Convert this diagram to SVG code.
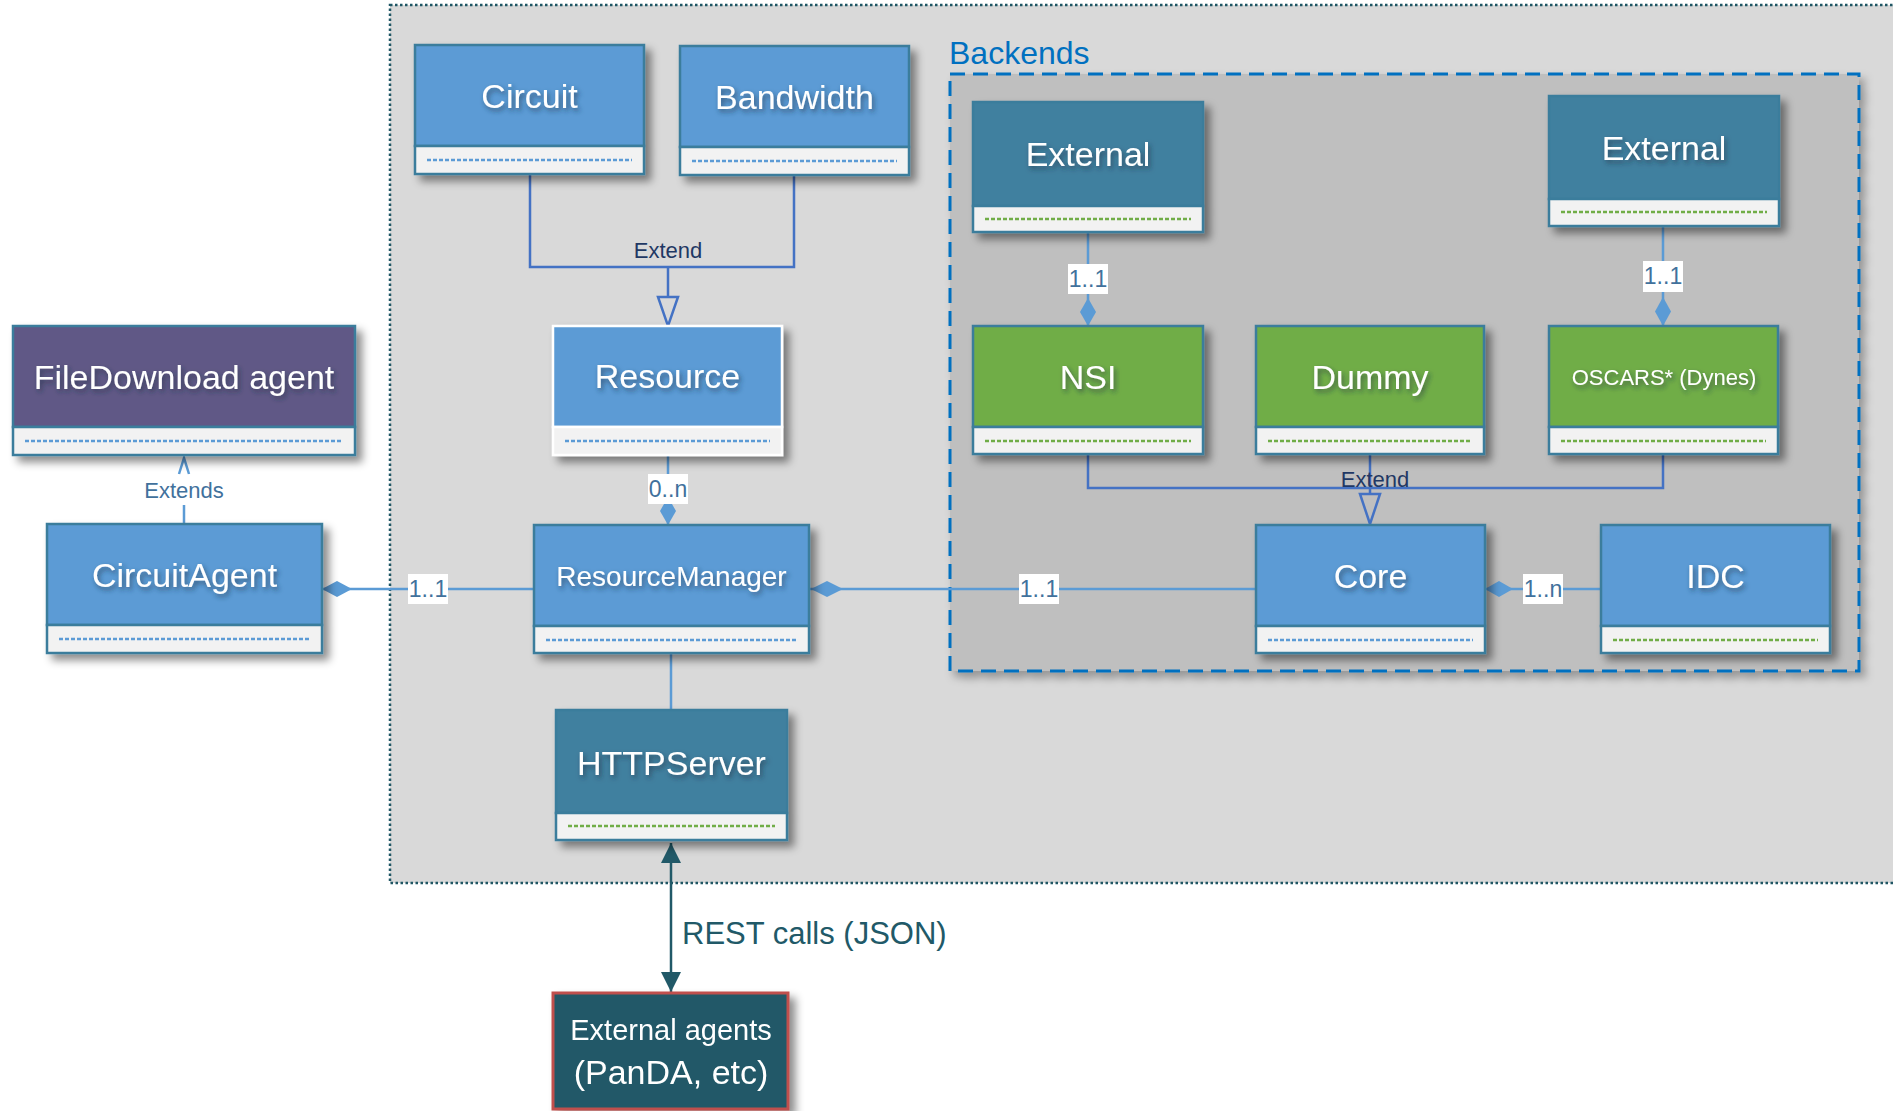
<svg xmlns="http://www.w3.org/2000/svg" width="1893" height="1111" viewBox="0 0 1893 1111">
  <defs>
    <filter id="boxShadow" x="-10%" y="-10%" width="130%" height="140%">
      <feDropShadow dx="6" dy="6" stdDeviation="4" flood-color="#000" flood-opacity="0.45"/>
    </filter>
    <filter id="areaShadow" x="-5%" y="-5%" width="110%" height="110%">
      <feDropShadow dx="5" dy="6" stdDeviation="4" flood-color="#000" flood-opacity="0.3"/>
    </filter>
    <filter id="textShadow" x="-20%" y="-40%" width="140%" height="180%">
      <feDropShadow dx="2" dy="3" stdDeviation="2.5" flood-color="#1a2a40" flood-opacity="0.6"/>
    </filter>
    <marker id="restHead" viewBox="0 0 20 20" refX="20" refY="10" markerWidth="20" markerHeight="20" markerUnits="userSpaceOnUse" orient="auto-start-reverse">
      <path d="M0,0 L20,10 L0,20 Z" fill="#215968"/>
    </marker>
  </defs>
  <style>
    text { font-family: "Liberation Sans", Arial, sans-serif; }
    .node { filter: url(#boxShadow); }
    .frame { stroke: #3b7d9c; stroke-width: 2.5; }
    .blue { fill: #5b9bd5; }
    .teal { fill: #41809f; }
    .green { fill: #70ad47; }
    .purple { fill: #605986; }
    .low { fill: #f2f2f2; stroke: #3b7d9c; stroke-width: 2.5; }
    .dash-b { stroke: #5b9bd5; stroke-width: 2.5; stroke-dasharray: 4 2; }
    .dash-g { stroke: #70ad47; stroke-width: 2.5; stroke-dasharray: 4 2; }
    .title { fill: #ffffff; font-size: 34px; text-anchor: middle; filter: url(#textShadow); }
    .assoc { stroke: #5b9bd5; stroke-width: 2.5; fill: none; }
    .diamond { fill: #5b9bd5; }
    .gen { stroke: #4472c4; stroke-width: 2.5; fill: none; }
    .mult-bg { fill: #ffffff; }
    .mult { fill: #41719c; font-size: 23px; text-anchor: middle; }
    .ext-label { fill: #1f3864; font-size: 22px; text-anchor: middle; }
  </style>

  <rect width="1893" height="1111" fill="#ffffff"/>

  <!-- system boundary -->
  <rect x="390" y="5" width="1530" height="878" fill="#d9d9d9" stroke="#1f5664" stroke-width="2.5" stroke-dasharray="2.5 2.5"/>

  <!-- backends area -->
  <g id="backends">
    <rect x="950" y="74" width="909" height="597" fill="#bfbfbf" stroke="#0070c0" stroke-width="3" stroke-dasharray="15 8" filter="url(#areaShadow)"/>
    <text x="949" y="64" font-size="32" fill="#0070c0">Backends</text>
  </g>

  <!-- connectors -->
  <g id="connectors">
    <!-- Circuit / Bandwidth extend Resource -->
    <polyline class="gen" points="530,174 530,267 794,267 794,175"/>
    <line class="gen" x1="668" y1="267" x2="668" y2="297"/>
    <polygon class="gen" points="658,297 678,297 668,326"/>
    <text class="ext-label" x="668" y="258">Extend</text>

    <!-- Resource 0..n ResourceManager -->
    <line class="assoc" x1="668" y1="455" x2="668" y2="525"/>
    <polygon class="diamond" points="668,497 676,511 668,525 660,511"/>
    <rect class="mult-bg" x="648" y="474" width="40" height="30"/>
    <text class="mult" x="668" y="497">0..n</text>

    <!-- CircuitAgent 1..1 ResourceManager -->
    <line class="assoc" x1="322" y1="589" x2="534" y2="589"/>
    <polygon class="diamond" points="322,589 337,581 352,589 337,597"/>
    <rect class="mult-bg" x="408" y="574" width="40" height="30"/>
    <text class="mult" x="428" y="597">1..1</text>

    <!-- ResourceManager 1..1 Core -->
    <line class="assoc" x1="809" y1="589" x2="1256" y2="589"/>
    <polygon class="diamond" points="811,589 827,581 843,589 827,597"/>
    <rect class="mult-bg" x="1019" y="574" width="40" height="30"/>
    <text class="mult" x="1039" y="597">1..1</text>

    <!-- Core 1..n IDC -->
    <line class="assoc" x1="1485" y1="589" x2="1601" y2="589"/>
    <polygon class="diamond" points="1485,589 1499,581 1513,589 1499,597"/>
    <rect class="mult-bg" x="1523" y="574" width="40" height="30"/>
    <text class="mult" x="1543" y="597">1..n</text>

    <!-- ResourceManager to HTTPServer -->
    <line class="assoc" x1="671" y1="653" x2="671" y2="710"/>

    <!-- REST calls -->
    <line x1="671" y1="843" x2="671" y2="992" stroke="#215968" stroke-width="2.5" marker-start="url(#restHead)" marker-end="url(#restHead)"/>
    <text x="682" y="944" font-size="31" fill="#215968">REST calls (JSON)</text>

    <!-- External 1..1 NSI -->
    <line class="assoc" x1="1088" y1="232" x2="1088" y2="326"/>
    <polygon class="diamond" points="1088,298 1096,312 1088,326 1080,312"/>
    <rect class="mult-bg" x="1068" y="264" width="40" height="30"/>
    <text class="mult" x="1088" y="287">1..1</text>

    <!-- External 1..1 OSCARS -->
    <line class="assoc" x1="1663" y1="226" x2="1663" y2="326"/>
    <polygon class="diamond" points="1663,297 1671,311.5 1663,326 1655,311.5"/>
    <rect class="mult-bg" x="1643" y="261" width="40" height="31"/>
    <text class="mult" x="1663" y="284">1..1</text>

    <!-- NSI / Dummy / OSCARS extend Core -->
    <polyline class="gen" points="1088,454 1088,488 1663,488 1663,455"/>
    <line class="gen" x1="1370" y1="454" x2="1370" y2="494"/>
    <polygon class="gen" points="1360,494 1380,494 1370,524"/>
    <text class="ext-label" x="1375" y="487">Extend</text>

    <!-- CircuitAgent extends FileDownload agent -->
    <line class="assoc" x1="184" y1="505" x2="184" y2="524"/>
    <polyline class="assoc" points="179,474 184,458 189,474"/>
    <text x="184" y="498" font-size="22" fill="#41719c" text-anchor="middle">Extends</text>
  </g>

  <!-- class nodes -->
  <g id="circuit" class="node">
    <rect class="blue frame" x="415" y="45" width="229" height="101"/>
    <rect class="low" x="415" y="146" width="229" height="28"/>
    <line class="dash-b" x1="427" y1="160" x2="632" y2="160"/>
    <text class="title" x="529.5" y="108">Circuit</text>
  </g>

  <g id="bandwidth" class="node">
    <rect class="blue frame" x="680" y="46" width="229" height="101"/>
    <rect class="low" x="680" y="147" width="229" height="28"/>
    <line class="dash-b" x1="692" y1="161" x2="897" y2="161"/>
    <text class="title" x="794.5" y="109">Bandwidth</text>
  </g>

  <g id="resource" class="node">
    <rect class="blue" x="553" y="326" width="229" height="101" stroke="#ffffff" stroke-width="2.5"/>
    <rect x="553" y="427" width="229" height="28" fill="#f2f2f2" stroke="#ffffff" stroke-width="2.5"/>
    <line class="dash-b" x1="565" y1="441" x2="770" y2="441"/>
    <text class="title" x="667.5" y="388">Resource</text>
  </g>

  <g id="filedownload-agent" class="node">
    <rect class="purple frame" x="13" y="326" width="342" height="101"/>
    <rect class="low" x="13" y="427" width="342" height="28"/>
    <line class="dash-b" x1="25" y1="441" x2="343" y2="441"/>
    <text class="title" x="184" y="389">FileDownload agent</text>
  </g>

  <g id="circuit-agent" class="node">
    <rect class="blue frame" x="47" y="524" width="275" height="101"/>
    <rect class="low" x="47" y="625" width="275" height="28"/>
    <line class="dash-b" x1="59" y1="639" x2="310" y2="639"/>
    <text class="title" x="184.5" y="587">CircuitAgent</text>
  </g>

  <g id="resource-manager" class="node">
    <rect class="blue frame" x="534" y="525" width="275" height="101"/>
    <rect class="low" x="534" y="626" width="275" height="27"/>
    <line class="dash-b" x1="546" y1="640" x2="797" y2="640"/>
    <text class="title" x="671.5" y="586" style="font-size:28px">ResourceManager</text>
  </g>

  <g id="http-server" class="node">
    <rect class="teal frame" x="556" y="710" width="231" height="103"/>
    <rect class="low" x="556" y="813" width="231" height="27"/>
    <line class="dash-g" x1="568" y1="826" x2="775" y2="826"/>
    <text class="title" x="671.5" y="775">HTTPServer</text>
  </g>

  <g id="external-agents" class="node">
    <rect x="553" y="993" width="235" height="116" fill="#215968" stroke="#c0504d" stroke-width="3"/>
    <text x="671" y="1040" font-size="29" fill="#ffffff" text-anchor="middle">External agents</text>
    <text x="671" y="1084" font-size="34" fill="#ffffff" text-anchor="middle">(PanDA, etc)</text>
  </g>

  <g id="external-nsi" class="node">
    <rect class="teal frame" x="973" y="102" width="230" height="104"/>
    <rect class="low" x="973" y="206" width="230" height="26"/>
    <line class="dash-g" x1="985" y1="219" x2="1191" y2="219"/>
    <text class="title" x="1088" y="166">External</text>
  </g>

  <g id="external-oscars" class="node">
    <rect class="teal frame" x="1549" y="96" width="230" height="103"/>
    <rect class="low" x="1549" y="199" width="230" height="27"/>
    <line class="dash-g" x1="1561" y1="212" x2="1767" y2="212"/>
    <text class="title" x="1664" y="160">External</text>
  </g>

  <g id="nsi" class="node">
    <rect class="green frame" x="973" y="326" width="230" height="101"/>
    <rect class="low" x="973" y="427" width="230" height="27"/>
    <line class="dash-g" x1="985" y1="441" x2="1191" y2="441"/>
    <text class="title" x="1088" y="389">NSI</text>
  </g>

  <g id="dummy" class="node">
    <rect class="green frame" x="1256" y="326" width="228" height="101"/>
    <rect class="low" x="1256" y="427" width="228" height="27"/>
    <line class="dash-g" x1="1268" y1="441" x2="1472" y2="441"/>
    <text class="title" x="1370" y="389">Dummy</text>
  </g>

  <g id="oscars" class="node">
    <rect class="green frame" x="1549" y="326" width="229" height="101"/>
    <rect class="low" x="1549" y="427" width="229" height="27"/>
    <line class="dash-g" x1="1561" y1="441" x2="1766" y2="441"/>
    <text class="title" x="1664" y="385" style="font-size:22px">OSCARS* (Dynes)</text>
  </g>

  <g id="core" class="node">
    <rect class="blue frame" x="1256" y="525" width="229" height="101"/>
    <rect class="low" x="1256" y="626" width="229" height="27"/>
    <line class="dash-b" x1="1268" y1="640" x2="1473" y2="640"/>
    <text class="title" x="1370.5" y="588">Core</text>
  </g>

  <g id="idc" class="node">
    <rect class="blue frame" x="1601" y="525" width="229" height="101"/>
    <rect class="low" x="1601" y="626" width="229" height="27"/>
    <line class="dash-g" x1="1613" y1="640" x2="1818" y2="640"/>
    <text class="title" x="1715.5" y="588">IDC</text>
  </g>
</svg>
